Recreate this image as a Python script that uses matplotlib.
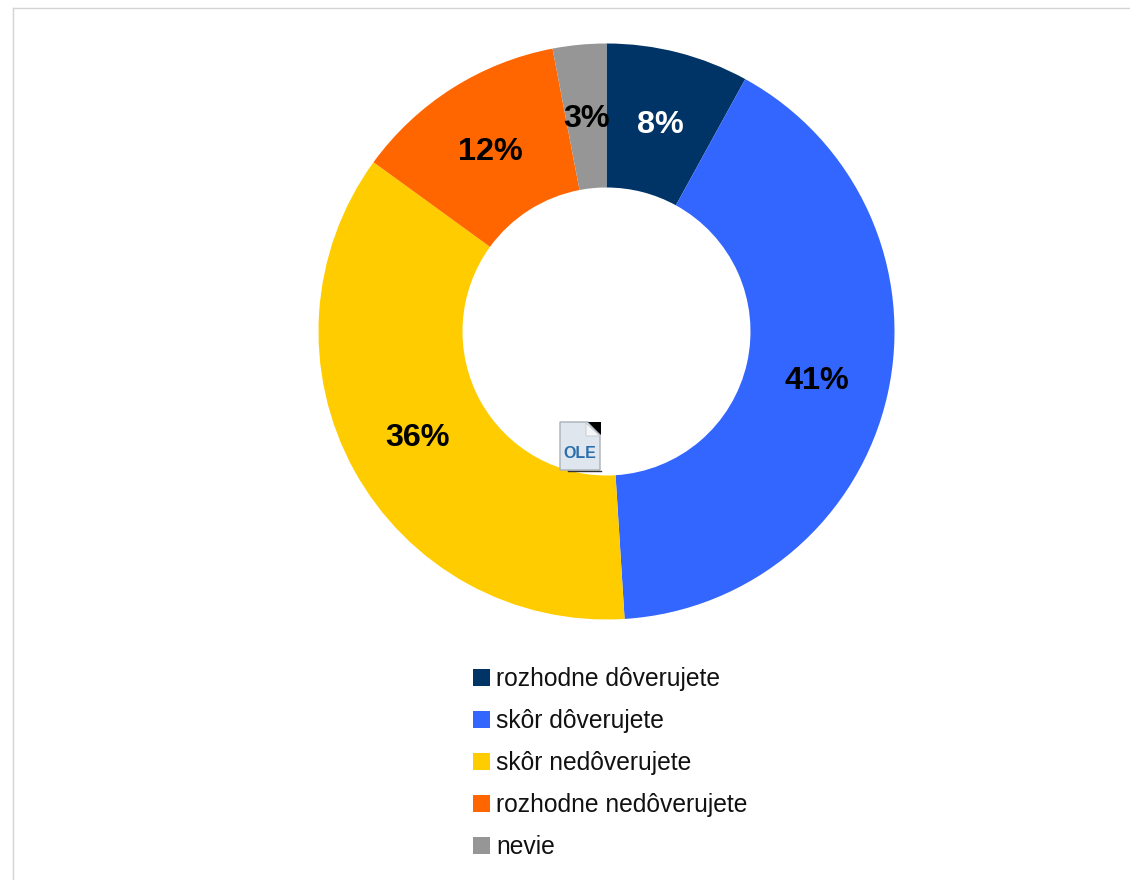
import matplotlib
matplotlib.use("Agg")
import matplotlib.pyplot as plt
from matplotlib.patches import Patch, Polygon

plt.rcParams["font.family"] = ["Liberation Sans", "DejaVu Sans"]

# ======================================================
# DATA
# ======================================================
categories = ["rozhodne dôverujete", "skôr dôverujete", "skôr nedôverujete",
              "rozhodne nedôverujete", "nevie"]
values = [8, 41, 36, 12, 3]
colors = ["#003366", "#3366FF", "#FFCC00", "#FF6600", "#969696"]
label_colors = ["white", "black", "black", "black", "black"]

W, H = 1130, 880

fig = plt.figure(figsize=(W / 100, H / 100), dpi=100)
ax = fig.add_axes([0, 0, 1, 1])

# ======================================================
# DONUT
# ======================================================
wedges, texts, autotexts = ax.pie(
    values, colors=colors, startangle=90, counterclock=False,
    center=(606.5, H - 331.5), radius=288, frame=True,
    autopct="%.0f%%", pctdistance=0.75,
    wedgeprops=dict(width=144, linewidth=0),
    textprops=dict(fontsize=23.3, fontweight="bold"),
)
for t, c in zip(autotexts, label_colors):
    t.set_color(c)
    x, y = t.get_position()
    t.set_position((x, y - 2.5))

ax.set_xlim(0, W)
ax.set_ylim(0, H)
ax.set_aspect("equal")
ax.axis("off")

# ======================================================
# LEGEND
# ======================================================
handles = [Patch(facecolor=c, edgecolor="none") for c in colors]
ax.legend(handles, categories, loc="upper left",
          bbox_to_anchor=(473 / W, 1 - 667 / H), bbox_transform=ax.transAxes,
          frameon=False, fontsize=17.7, borderpad=0, borderaxespad=0,
          handlelength=0.70, handleheight=0.70, handletextpad=0.25,
          labelspacing=0.73, labelcolor="#111111")

# ======================================================
# PAGE BORDER (top and left)
# ======================================================
ax.plot([12.5, W], [H - 8, H - 8], color="#d4d4d4", lw=1, clip_on=False)
ax.plot([12.5, 12.5], [0, H - 8], color="#d4d4d4", lw=1, clip_on=False)

# ======================================================
# OLE PLACEHOLDER ICON
# ======================================================
ax.add_patch(Polygon([(560, H - 422), (588, H - 422), (600, H - 435),
                      (600, H - 470), (560, H - 470)],
                     closed=True, facecolor="#dfe6ee", edgecolor="#a9b0b8",
                     lw=1, zorder=5))
ax.add_patch(Polygon([(588, H - 422), (601, H - 422), (601, H - 435)],
                     closed=True, facecolor="black", edgecolor="none", zorder=6))
ax.add_patch(Polygon([(586, H - 423), (600, H - 436), (586, H - 436)],
                     closed=True, facecolor="#f4f6f8", edgecolor="#c4c9cf",
                     lw=0.6, zorder=6))
ax.plot([568, 601], [H - 470.5, H - 470.5], color="#333333", lw=1, zorder=6)
ax.text(580, H - 453, "OLE", ha="center", va="center", fontsize=11.5,
        fontweight="bold", color="#2A6EAD", zorder=7)

fig.savefig("out.png", dpi=100, facecolor="white")
